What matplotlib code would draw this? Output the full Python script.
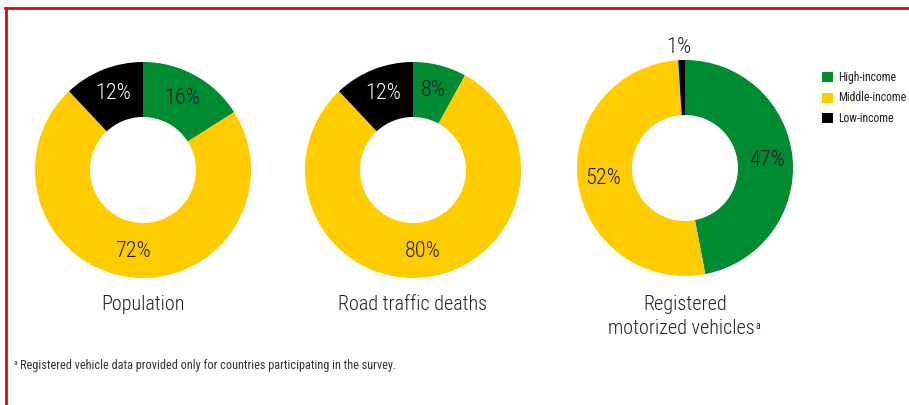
import numpy as np
import matplotlib
matplotlib.use("Agg")
import matplotlib.pyplot as plt
from matplotlib.patches import Rectangle
from matplotlib.lines import Line2D
from matplotlib.text import Annotation

plt.rcParams['font.family'] = ['Roboto Condensed', 'DejaVu Sans']

W, H = 909, 405

groups = ["High-income", "Middle-income", "Low-income"]
colors = ["#008a32", "#ffcc00", "#000000"]
text_colors = ["#231f20", "#231f20", "#ffffff"]

population = [16, 72, 12]
road_deaths = [8, 80, 12]
vehicles = [47, 52, 1]

footnote = "Registered vehicle data provided only for countries participating in the survey."
INK = "#231f20"

fig = plt.figure(figsize=(W / 100, H / 100), dpi=100)
fig.patch.set_facecolor("white")

# frame lines (top and left) in red
fig.add_artist(Line2D([5 / W, 908 / W], [1 - 8 / H, 1 - 8 / H], color="#e30613", lw=2.0,
                      transform=fig.transFigure))
fig.add_artist(Line2D([6 / W, 6 / W], [1 - 8 / H, 0], color="#e30613", lw=2.0,
                      transform=fig.transFigure))

R_OUT = 108  # px
R_IN = 53
centers = [(143, 170), (413, 170), (685, 168)]
datasets = [population, road_deaths, vehicles]


def donut(cx, cy, values):
    ax = fig.add_axes([(cx - R_OUT) / W, 1 - (cy + R_OUT) / H, 2 * R_OUT / W, 2 * R_OUT / H])
    wedges, _ = ax.pie(values, colors=colors, startangle=90, counterclock=False, radius=1,
                       wedgeprops=dict(width=1 - R_IN / R_OUT, edgecolor="none"))
    ax.set_xlim(-1, 1)
    ax.set_ylim(-1, 1)
    ax.axis("off")
    for w, v, tc in zip(wedges, values, text_colors):
        ang = np.deg2rad((w.theta1 + w.theta2) / 2)
        if v < 4:
            r = 1.12
            ax.text(r * np.cos(ang) - 0.02, r * np.sin(ang), f"{v}%", ha="center", va="center",
                    fontsize=16, weight="light", color=INK, clip_on=False)
        else:
            r = 0.76
            ax.text(r * np.cos(ang), r * np.sin(ang), f"{v}%", ha="center", va="center",
                    fontsize=16, weight="light", color=tc)
    return ax


for (cx, cy), vals in zip(centers, datasets):
    donut(cx, cy, vals)

# chart titles
title_kw = dict(ha="center", va="center", fontsize=14.5, weight="light", color=INK)
fig.text(143 / W, 1 - 305 / H, "Population", **title_kw)
fig.text(413 / W, 1 - 305 / H, "Road traffic deaths", **title_kw)
fig.text(685 / W, 1 - 305 / H, "Registered", **title_kw)
t_mv = fig.text(681 / W, 1 - 328 / H, "motorized vehicles", **title_kw)
fig.add_artist(Annotation("a", xy=(1.0, 0.62), xycoords=t_mv, xytext=(1, 0),
                          textcoords="offset points", ha="left", va="center",
                          fontsize=7, color=INK))

# legend
for i, (g, c) in enumerate(zip(groups, colors)):
    y = 77 + i * 20.5
    fig.add_artist(Rectangle((822 / W, 1 - (y + 5) / H), 11 / W, 10 / H, facecolor=c,
                             edgecolor="none", transform=fig.transFigure))
    fig.text(838 / W, 1 - y / H, g, ha="left", va="center", fontsize=8.5, color=INK)

# footnote
fig.text(14 / W, 1 - 363 / H, "a", ha="left", va="center", fontsize=5.5, color="#333333")
fig.text(20 / W, 1 - 365 / H, footnote, ha="left", va="center", fontsize=8.8, color="#333333")

fig.savefig("out.png", dpi=100, facecolor="white")
